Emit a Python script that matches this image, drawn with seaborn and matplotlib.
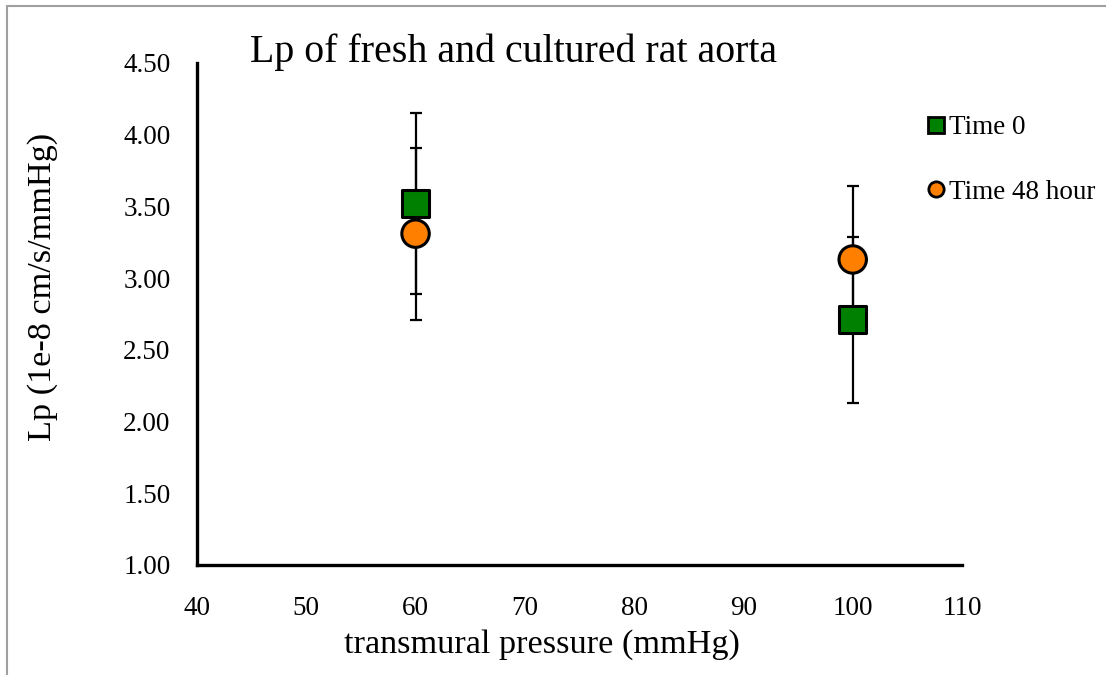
import matplotlib
matplotlib.use("Agg")
import matplotlib.pyplot as plt
from matplotlib.lines import Line2D
import seaborn as sns
import pandas as pd

# Lp measurements (mean ± SD) at each transmural pressure
pressure = [60, 100]
lp_time0 = [3.52, 2.71]
err_time0 = [0.63, 0.58]
lp_time48 = [3.31, 3.13]
err_time48 = [0.60, 0.51]
series_names = ["Time 0", "Time 48 hour"]

x_ticks = [40, 50, 60, 70, 80, 90, 100, 110]
y_ticks = [1.00, 1.50, 2.00, 2.50, 3.00, 3.50, 4.00, 4.50]

df = pd.DataFrame({
    "pressure": pressure * 2,
    "lp": lp_time0 + lp_time48,
    "err": err_time0 + err_time48,
    "group": [series_names[0]] * 2 + [series_names[1]] * 2,
})

sns.set_style("white")
plt.rcParams["font.family"] = ["Liberation Serif", "DejaVu Serif"]
plt.rcParams["text.color"] = "black"
plt.rcParams["axes.labelcolor"] = "black"

fig = plt.figure(figsize=(11.06, 6.75), dpi=100)
ax = fig.add_axes([0.1781, 0.1630, 0.6917, 0.7437])

palette = {series_names[0]: "#008000", series_names[1]: "#FF7F00"}
markers = {series_names[0]: "s", series_names[1]: "o"}

# error bars behind the markers
for name in series_names:
    sub = df[df["group"] == name]
    ax.errorbar(sub["pressure"], sub["lp"], yerr=sub["err"], fmt="none",
                ecolor="black", elinewidth=1.6, capsize=4.5, capthick=1.6,
                zorder=1)

sns.scatterplot(data=df, x="pressure", y="lp", hue="group", style="group",
                palette=palette, markers=markers, s=390, edgecolor="black",
                linewidth=2.2, ax=ax, zorder=3, legend=False)

ax.set_xlim(40, 110)
ax.set_ylim(1.0, 4.5)
ax.set_xticks(x_ticks)
ax.set_yticks(y_ticks)
ax.set_yticklabels([f"{v:.2f}" for v in y_ticks])
ax.tick_params(axis="both", length=0, labelsize=19.5, colors="black")
ax.tick_params(axis="y", pad=19)
ax.tick_params(axis="x", pad=22)

ax.set_xlabel("transmural pressure (mmHg)", fontsize=24.7)
ax.xaxis.set_label_coords(0.451, -0.128)
ax.set_ylabel("Lp (1e-8 cm/s/mmHg)", fontsize=24.7)
ax.yaxis.set_label_coords(-0.182, 0.554)

sns.despine(ax=ax)
for side in ("left", "bottom"):
    ax.spines[side].set_color("black")
    ax.spines[side].set_linewidth(2.4)

fig.text(0.464, 0.922, "Lp of fresh and cultured rat aorta", fontsize=28.7,
         ha="center", va="center")

handles = [
    Line2D([], [], linestyle="none", marker="s", markersize=11,
           markerfacecolor=palette[series_names[0]], markeredgecolor="black",
           markeredgewidth=2),
    Line2D([], [], linestyle="none", marker="o", markersize=11,
           markerfacecolor=palette[series_names[1]], markeredgecolor="black",
           markeredgewidth=2),
]
fig.legend(handles, series_names, loc="upper left",
           bbox_to_anchor=(0.8275, 0.845), frameon=False, fontsize=19.5,
           handlelength=0.7, handletextpad=0.15, labelspacing=1.45,
           borderaxespad=0)

# thin grey chart border along the top and left edges
fig.add_artist(Line2D([0.0066, 0.0066], [0.0, 0.991], transform=fig.transFigure,
                      color="#a0a0a0", linewidth=1.5))
fig.add_artist(Line2D([0.0066, 1.0], [0.991, 0.991], transform=fig.transFigure,
                      color="#a0a0a0", linewidth=1.5))

fig.savefig("out.png", dpi=100)
